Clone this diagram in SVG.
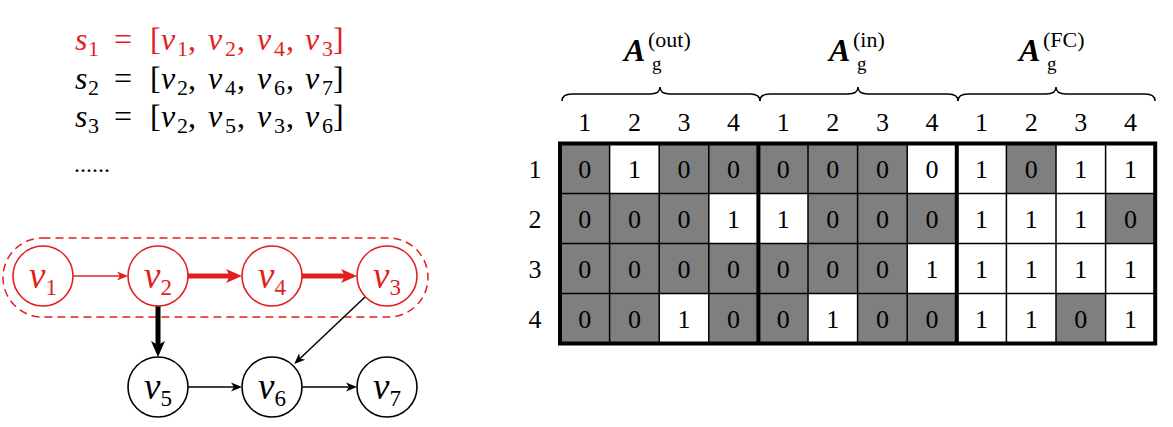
<svg xmlns="http://www.w3.org/2000/svg" width="1173" height="427" viewBox="0 0 1173 427">
<style>
text{font-family:"Liberation Serif","Times New Roman",serif;}
.eq{font-size:32px;}
.it{font-style:italic;}
.sb{font-size:22px;}
.red{fill:#e41e1e;}
.blk{fill:#000;}
.nr{fill:#fff;stroke:#e41e1e;stroke-width:1.6;}
.nb{fill:#fff;stroke:#000;stroke-width:1.6;}
.nl{font-size:37px;font-style:italic;text-anchor:middle;}
.ns{font-size:23px;font-style:normal;}
.er{stroke:#e41e1e;fill:none;}
.ek{stroke:#000;fill:none;}
.thin{stroke-width:1.5;}
.thick{stroke-width:5;}
.gray{fill:#7f7f7f;}
.gl{stroke:#000;stroke-width:1.5;fill:none;}
.gt{stroke:#000;stroke-width:4;fill:none;}
.num{font-size:26px;text-anchor:middle;}
.hA{font-size:32px;font-weight:bold;font-style:italic;}
.hg{font-size:19px;}
.hs{font-size:22px;}
.dots{font-size:24px;}
.brace{stroke:#000;stroke-width:1.5;fill:none;}
</style>
<defs>
<marker id="arTr" markerUnits="userSpaceOnUse" viewBox="-12 -6 13 12" refX="-8" refY="0" markerWidth="13" markerHeight="12" orient="auto"><path d="M0,0 L-11,-4.5 L-8,0 L-11,4.5 z" fill="#e41e1e"/></marker>
<marker id="arTk" markerUnits="userSpaceOnUse" viewBox="-12 -6 13 12" refX="-8" refY="0" markerWidth="13" markerHeight="12" orient="auto"><path d="M0,0 L-11,-4.5 L-8,0 L-11,4.5 z" fill="#000"/></marker>
<marker id="arKr" markerUnits="userSpaceOnUse" viewBox="-17 -8 18 16" refX="-12" refY="0" markerWidth="18" markerHeight="16" orient="auto"><path d="M0,0 L-16,-7 L-12,0 L-16,7 z" fill="#e41e1e"/></marker>
<marker id="arKk" markerUnits="userSpaceOnUse" viewBox="-17 -8 18 16" refX="-12" refY="0" markerWidth="18" markerHeight="16" orient="auto"><path d="M0,0 L-16,-7 L-12,0 L-16,7 z" fill="#000"/></marker>
</defs>
<rect width="1173" height="427" fill="#fff"/>

<g id="sequences">
<text class="eq red"><tspan class="it" x="75" y="50">s</tspan><tspan class="sb" x="88" y="56">1</tspan><tspan x="114" y="50">=</tspan><tspan x="150" y="50">[</tspan><tspan class="it" x="161" y="50">v</tspan><tspan class="sb" x="177" y="56">1</tspan><tspan x="188" y="50">,</tspan><tspan class="it" x="208" y="50">v</tspan><tspan class="sb" x="225" y="56">2</tspan><tspan x="237" y="50">,</tspan><tspan class="it" x="257" y="50">v</tspan><tspan class="sb" x="274" y="56">4</tspan><tspan x="286" y="50">,</tspan><tspan class="it" x="305" y="50">v</tspan><tspan class="sb" x="322" y="56">3</tspan><tspan x="333" y="50">]</tspan></text>
<text class="eq blk"><tspan class="it" x="75" y="89">s</tspan><tspan class="sb" x="88" y="95">2</tspan><tspan x="114" y="89">=</tspan><tspan x="150" y="89">[</tspan><tspan class="it" x="161" y="89">v</tspan><tspan class="sb" x="177" y="95">2</tspan><tspan x="188" y="89">,</tspan><tspan class="it" x="208" y="89">v</tspan><tspan class="sb" x="225" y="95">4</tspan><tspan x="237" y="89">,</tspan><tspan class="it" x="257" y="89">v</tspan><tspan class="sb" x="274" y="95">6</tspan><tspan x="286" y="89">,</tspan><tspan class="it" x="305" y="89">v</tspan><tspan class="sb" x="322" y="95">7</tspan><tspan x="333" y="89">]</tspan></text>
<text class="eq blk"><tspan class="it" x="75" y="127">s</tspan><tspan class="sb" x="88" y="133">3</tspan><tspan x="114" y="127">=</tspan><tspan x="150" y="127">[</tspan><tspan class="it" x="161" y="127">v</tspan><tspan class="sb" x="177" y="133">2</tspan><tspan x="188" y="127">,</tspan><tspan class="it" x="208" y="127">v</tspan><tspan class="sb" x="225" y="133">5</tspan><tspan x="237" y="127">,</tspan><tspan class="it" x="257" y="127">v</tspan><tspan class="sb" x="274" y="133">3</tspan><tspan x="286" y="127">,</tspan><tspan class="it" x="305" y="127">v</tspan><tspan class="sb" x="322" y="133">6</tspan><tspan x="333" y="127">]</tspan></text>
<text class="dots" x="74" y="172">......</text>
</g>

<rect id="path-s1" x="3" y="238" width="425" height="79" rx="39.5" fill="none" stroke="#e41e1e" stroke-width="1.5" stroke-dasharray="8 5"/>

<g id="connectors">
<line class="er thin" x1="73" y1="276" x2="120" y2="276" marker-end="url(#arTr)"/>
<line class="er thick" x1="188" y1="276" x2="230" y2="276" marker-end="url(#arKr)"/>
<line class="er thick" x1="302" y1="276" x2="345" y2="276" marker-end="url(#arKr)"/>
<line class="ek thick" x1="158" y1="306" x2="158" y2="345" marker-end="url(#arKk)"/>
<line class="ek thin" x1="365" y1="297" x2="300" y2="358.5" marker-end="url(#arTk)"/>
<line class="ek thin" x1="188" y1="387" x2="234" y2="387" marker-end="url(#arTk)"/>
<line class="ek thin" x1="302" y1="387" x2="349" y2="387" marker-end="url(#arTk)"/>
</g>

<g id="v1"><circle class="nr" cx="43" cy="276" r="30"/><text class="nl red" x="43" y="288">v<tspan class="ns" dy="7">1</tspan></text></g>
<g id="v2"><circle class="nr" cx="158" cy="276" r="30"/><text class="nl red" x="158" y="288">v<tspan class="ns" dy="7">2</tspan></text></g>
<g id="v4"><circle class="nr" cx="272" cy="276" r="30"/><text class="nl red" x="272" y="288">v<tspan class="ns" dy="7">4</tspan></text></g>
<g id="v3"><circle class="nr" cx="387" cy="276" r="30"/><text class="nl red" x="387" y="288">v<tspan class="ns" dy="7">3</tspan></text></g>
<g id="v5"><circle class="nb" cx="158" cy="387" r="30"/><text class="nl blk" x="158" y="399">v<tspan class="ns" dy="7">5</tspan></text></g>
<g id="v6"><circle class="nb" cx="272" cy="387" r="30"/><text class="nl blk" x="272" y="399">v<tspan class="ns" dy="7">6</tspan></text></g>
<g id="v7"><circle class="nb" cx="387" cy="387" r="30"/><text class="nl blk" x="387" y="399">v<tspan class="ns" dy="7">7</tspan></text></g>

<g id="headers">
<text class="hA" x="624" y="61">A</text><text class="hg" x="652" y="70">g</text><text class="hs" x="648" y="47">(out)</text>
<text class="hA" x="829" y="61">A</text><text class="hg" x="857" y="70">g</text><text class="hs" x="853" y="47">(in)</text>
<text class="hA" x="1019" y="61">A</text><text class="hg" x="1047" y="70">g</text><text class="hs" x="1043" y="47">(FC)</text>
<path class="brace" d="M562,101 C562,96 565,94 572,94 L650,94 C656,94 660,92 660,87 C660,92 664,94 670,94 L750,94 C757,94 760,96 760,101"/>
<path class="brace" d="M760,101 C760,96 763,94 770,94 L848,94 C854,94 858,92 858,87 C858,92 862,94 868,94 L948,94 C955,94 958,96 958,101"/>
<path class="brace" d="M958,101 C958,96 961,94 968,94 L1046,94 C1052,94 1056,92 1056,87 C1056,92 1060,94 1066,94 L1145,94 C1152,94 1155,96 1155,101"/>
<g class="num">
<text x="584.8" y="131">1</text><text x="634.4" y="131">2</text><text x="684" y="131">3</text><text x="733.6" y="131">4</text>
<text x="783.2" y="131">1</text><text x="832.8" y="131">2</text><text x="882.4" y="131">3</text><text x="932" y="131">4</text>
<text x="981.6" y="131">1</text><text x="1031.2" y="131">2</text><text x="1080.8" y="131">3</text><text x="1130.4" y="131">4</text>
<text x="535" y="177.5">1</text><text x="535" y="227.5">2</text><text x="535" y="277.5">3</text><text x="535" y="327.5">4</text>
</g>
</g>

<g id="matrix">
<g class="gray">
<rect x="560" y="143.5" width="49.6" height="50"/><rect x="659.2" y="143.5" width="198.4" height="50"/><rect x="857.6" y="143.5" width="49.6" height="50"/><rect x="1006.4" y="143.5" width="49.6" height="50"/>
<rect x="560" y="193.5" width="148.8" height="50"/><rect x="808" y="193.5" width="148.8" height="50"/><rect x="1105.6" y="193.5" width="49.6" height="50"/>
<rect x="560" y="243.5" width="347.2" height="50"/>
<rect x="560" y="293.5" width="99.2" height="50"/><rect x="708.8" y="293.5" width="99.2" height="50"/><rect x="857.6" y="293.5" width="99.2" height="50"/><rect x="1056" y="293.5" width="49.6" height="50"/>
</g>
<path class="gl" d="M609.6,143.5V343.5M659.2,143.5V343.5M708.8,143.5V343.5M808,143.5V343.5M857.6,143.5V343.5M907.2,143.5V343.5M1006.4,143.5V343.5M1056,143.5V343.5M1105.6,143.5V343.5M560,193.5H1155.2M560,243.5H1155.2M560,293.5H1155.2"/>
<path class="gt" d="M758.4,143.5V343.5M956.8,143.5V343.5"/>
<rect class="gt" x="560" y="143.5" width="595.2" height="200"/>
<g class="num">
<text x="584.8" y="177.5">0</text><text x="634.4" y="177.5">1</text><text x="684" y="177.5">0</text><text x="733.6" y="177.5">0</text><text x="783.2" y="177.5">0</text><text x="832.8" y="177.5">0</text><text x="882.4" y="177.5">0</text><text x="932" y="177.5">0</text><text x="981.6" y="177.5">1</text><text x="1031.2" y="177.5">0</text><text x="1080.8" y="177.5">1</text><text x="1130.4" y="177.5">1</text>
<text x="584.8" y="227.5">0</text><text x="634.4" y="227.5">0</text><text x="684" y="227.5">0</text><text x="733.6" y="227.5">1</text><text x="783.2" y="227.5">1</text><text x="832.8" y="227.5">0</text><text x="882.4" y="227.5">0</text><text x="932" y="227.5">0</text><text x="981.6" y="227.5">1</text><text x="1031.2" y="227.5">1</text><text x="1080.8" y="227.5">1</text><text x="1130.4" y="227.5">0</text>
<text x="584.8" y="277.5">0</text><text x="634.4" y="277.5">0</text><text x="684" y="277.5">0</text><text x="733.6" y="277.5">0</text><text x="783.2" y="277.5">0</text><text x="832.8" y="277.5">0</text><text x="882.4" y="277.5">0</text><text x="932" y="277.5">1</text><text x="981.6" y="277.5">1</text><text x="1031.2" y="277.5">1</text><text x="1080.8" y="277.5">1</text><text x="1130.4" y="277.5">1</text>
<text x="584.8" y="327.5">0</text><text x="634.4" y="327.5">0</text><text x="684" y="327.5">1</text><text x="733.6" y="327.5">0</text><text x="783.2" y="327.5">0</text><text x="832.8" y="327.5">1</text><text x="882.4" y="327.5">0</text><text x="932" y="327.5">0</text><text x="981.6" y="327.5">1</text><text x="1031.2" y="327.5">1</text><text x="1080.8" y="327.5">0</text><text x="1130.4" y="327.5">1</text>
</g>
</g>
</svg>
